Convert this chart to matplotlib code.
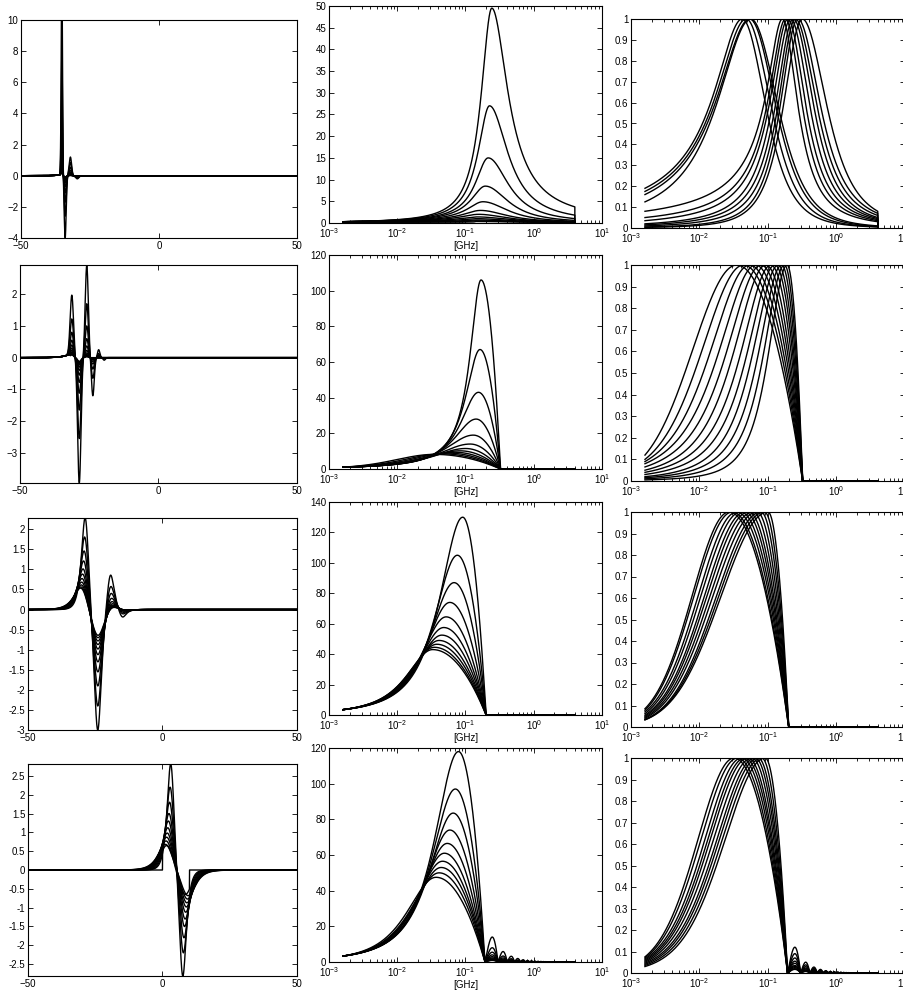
import numpy as np
import matplotlib
matplotlib.use("Agg")
import matplotlib.pyplot as plt
from matplotlib.ticker import FixedLocator, LogLocator, NullFormatter, FuncFormatter

plt.rcParams['font.family'] = ['Liberation Sans', 'DejaVu Sans']
plt.rcParams['mathtext.fontset'] = 'custom'
plt.rcParams['mathtext.rm'] = 'Liberation Sans'

# ================= data =================
# ---- column 1 : time-domain pulses; value of each curve at each lobe centre ----
t_lim = (-50, 50)

r1_centers = [-35.2, -34.0, -32.1, -29.6]
r1_widths = [0.33, 0.5, 0.6, 0.8]
r1_vals = [
    [13.0, 8.0, 5.0, 3.0, 2.0, 1.3, 0.9, 0.6, 0.45, 0.35, 0.3, 0.25],
    [-4.0, -2.6, -1.7, -1.1, -0.7, -0.45, -0.3, -0.2, -0.15, -0.12, -0.1, -0.08],
    [1.2, 0.85, 0.55, 0.35, 0.22, 0.14, 0.09, 0.06, 0.04, 0.03, 0.02, 0.02],
    [-0.2, -0.14, -0.09, -0.06, -0.04, -0.02, -0.01, -0.01, 0.0, 0.0, 0.0, 0.0],
]
r1_pre = 0.08

r2_centers = [-31.3, -28.6, -25.9, -23.7, -21.6, -19.6]
r2_widths = [0.85, 0.85, 0.8, 0.7, 0.6, 0.6]
r2_vals = [
    [1.97, 1.22, 0.8, 0.55, 0.4, 0.3, 0.23, 0.18, 0.15, 0.12, 0.1, 0.09],
    [-3.95, -2.55, -1.65, -1.12, -0.78, -0.55, -0.4, -0.3, -0.23, -0.18, -0.15, -0.12],
    [2.9, 1.7, 1.0, 0.6, 0.37, 0.23, 0.15, 0.1, 0.07, 0.05, 0.04, 0.03],
    [-1.2, -0.65, -0.36, -0.2, -0.12, -0.07, -0.04, -0.03, -0.02, -0.01, -0.01, 0.0],
    [0.25, 0.13, 0.07, 0.04, 0.02, 0.01, 0.0, 0.0, 0.0, 0.0, 0.0, 0.0],
    [-0.08, -0.04, -0.02, -0.01, 0.0, 0.0, 0.0, 0.0, 0.0, 0.0, 0.0, 0.0],
]
r2_pre = 0.15

r3_centers = [-28.7, -24.1, -19.4, -15.0]
r3_vals = [
    [2.28, 1.8, 1.45, 1.2, 1.0, 0.87, 0.76, 0.67, 0.6, 0.55, 0.52],
    [-3.0, -2.4, -1.9, -1.55, -1.3, -1.12, -0.98, -0.87, -0.78, -0.7, -0.64],
    [0.85, 0.56, 0.38, 0.25, 0.16, 0.1, 0.06, 0.04, 0.02, 0.01, 0.0],
    [-0.18, -0.1, -0.06, -0.03, -0.02, -0.01, 0.0, 0.0, 0.0, 0.0, 0.0],
]
r3_widths = [1.25, 1.4, 1.55, 1.7, 1.85, 2.0, 2.1, 2.2, 2.3, 2.4, 2.5]
r3_shift = [0.0, -0.15, -0.3, -0.45, -0.6, -0.75, -0.9, -1.0, -1.1, -1.2, -1.3]

r4_vals = [2.82, 2.2, 1.8, 1.5, 1.3, 1.12, 0.98, 0.87, 0.77, 0.68]
r4_half_sep = [2.2, 2.4, 2.6, 2.8, 3.0, 3.2, 3.4, 3.6, 3.8, 4.0]
r4_widths = [1.2, 1.35, 1.5, 1.65, 1.8, 1.95, 2.1, 2.25, 2.4, 2.55]
r4_mid = 5.3
r4_box = (0.0, 10.0)          # truncated curve: jumps at t = 0 and t = 10
r4_box_amp = 0.65

# ---- columns 2/3 : spectra ----
f_start, f_end = 0.0016, 4.0

# row 1, column 2 (absolute)
A1 = [49.5, 27.0, 15.0, 8.5, 4.9, 2.9, 2.0, 1.4, 1.0, 0.7, 0.5, 0.35]
fp1 = [0.243, 0.225, 0.215, 0.195, 0.18, 0.165, 0.155, 0.15, 0.145, 0.14, 0.14, 0.14]
hl1 = [0.19, 0.21, 0.24, 0.28, 0.33, 0.4, 0.45, 0.5, 0.55, 0.6, 0.65, 0.7]
lo1 = [0.006, 0.011, 0.02, 0.035, 0.06, 0.1, 0.14, 0.2, 0.26, 0.32, 0.38, 0.45]
hr1 = [0.3, 0.33, 0.36, 0.4, 0.44, 0.48, 0.52, 0.56, 0.6, 0.64, 0.68, 0.72]
hi1 = [0.075, 0.067, 0.067, 0.07, 0.08, 0.1, 0.12, 0.14, 0.15, 0.17, 0.2, 0.2]
# row 1, column 3 (normalised)
n1_fp = [0.162, 0.18, 0.195, 0.214, 0.234, 0.251, 0.272, 0.316, 0.056, 0.054, 0.048, 0.042]
n1_hl = [0.34, 0.33, 0.33, 0.32, 0.31, 0.3, 0.3, 0.32, 0.6, 0.62, 0.6, 0.58]
n1_lo = [0.08, 0.05, 0.035, 0.02, 0.015, 0.01, 0.005, 0.003, 0.125, 0.16, 0.175, 0.19]
n1_hr = [0.27, 0.29, 0.31, 0.33, 0.35, 0.37, 0.39, 0.42, 0.46, 0.44, 0.42, 0.4]
n1_hi = [0.03, 0.035, 0.04, 0.045, 0.05, 0.06, 0.07, 0.08, 0.01, 0.008, 0.006, 0.005]

# row 2
A2 = [106, 67, 43, 28, 19, 14, 11.5, 10.2, 9.4, 8.9, 8.5, 8.2]
fp2 = [0.169, 0.163, 0.155, 0.143, 0.130, 0.117, 0.100, 0.083, 0.069, 0.056, 0.045, 0.035]
hl2 = [0.2, 0.26, 0.32, 0.4, 0.5, 0.58, 0.6, 0.62, 0.64, 0.66, 0.68, 0.7]
base2 = 1.0
fc2 = 0.325
n2_fp = [0.19, 0.174, 0.158, 0.141, 0.126, 0.11, 0.093, 0.079, 0.066, 0.054, 0.044, 0.035]
n2_hl = [0.32, 0.36, 0.4, 0.44, 0.48, 0.52, 0.56, 0.6, 0.64, 0.68, 0.72, 0.76]
n2_lo = [0.005, 0.01, 0.015, 0.02, 0.03, 0.04, 0.05, 0.065, 0.08, 0.09, 0.1, 0.12]
n2_fc = 0.32

# row 3
A3 = [130, 105, 87, 74, 64.5, 57.5, 52.5, 49, 46.5, 44.5, 43]
fp3 = [0.091, 0.076, 0.068, 0.059, 0.052, 0.048, 0.045, 0.041, 0.038, 0.035, 0.033]
hl3 = [0.4, 0.41, 0.43, 0.44, 0.45, 0.46, 0.47, 0.47, 0.47, 0.47, 0.46]
base3 = 3.5
fc3 = 0.2
n3_fp = [0.1, 0.089, 0.079, 0.069, 0.06, 0.052, 0.046, 0.04, 0.035, 0.03, 0.027]
n3_hl = [0.81, 0.79, 0.77, 0.76, 0.74, 0.72, 0.7, 0.69, 0.67, 0.66, 0.64]
n3_lo = [0.025, 0.03, 0.035, 0.04, 0.045, 0.05, 0.055, 0.062, 0.07, 0.078, 0.085]
n3_fc = 0.2

# row 4
A4 = [118, 97, 83.5, 74, 66.5, 61, 56.5, 53, 50, 47.5]
fp4 = [0.079, 0.071, 0.066, 0.059, 0.054, 0.049, 0.046, 0.044, 0.041, 0.037]
hl4 = [0.41, 0.42, 0.43, 0.44, 0.45, 0.46, 0.47, 0.48, 0.49, 0.5]
base4 = 3.3
fc4 = 0.193
side4_abs = [14, 8, 5.5, 4, 3, 2.3, 1.8, 1.4, 1.1, 0.9]
n4_fp = [0.091, 0.081, 0.072, 0.065, 0.058, 0.051, 0.046, 0.041, 0.036, 0.032]
n4_hl = [0.71, 0.7, 0.69, 0.68, 0.68, 0.67, 0.66, 0.65, 0.65, 0.64]
n4_lo = [0.03, 0.035, 0.04, 0.045, 0.05, 0.055, 0.06, 0.065, 0.07, 0.075]
n4_side = [0.12, 0.09, 0.07, 0.055, 0.045, 0.035, 0.03, 0.025, 0.02, 0.017]
zeros4 = [0.193, 0.30, 0.41, 0.525, 0.64, 0.755, 0.87, 0.985, 1.10, 1.215, 1.33, 1.445, 1.56]
side_ratio4 = [1.0, 0.42, 0.23, 0.14, 0.09, 0.06, 0.045, 0.035, 0.028, 0.022, 0.018, 0.015]

# ================= helpers =================
W, H = 904, 996
fig = plt.figure(figsize=(W / 100, H / 100), dpi=100)


def ax_px(l, t, r, b):
    return fig.add_axes([l / W, 1 - b / H, (r - l) / W, (b - t) / H])


def style(ax, logx=False):
    ax.tick_params(direction='in', which='both', top=True, right=True,
                   labelsize=7, width=0.6, pad=2)
    ax.tick_params(which='major', length=3.5)
    ax.tick_params(which='minor', length=2)
    for s in ax.spines.values():
        s.set_linewidth(0.8)
    if logx:
        ax.set_xscale('log')
        ax.set_xlim(1e-3, 1e1)
        ax.xaxis.set_major_locator(LogLocator(base=10, numticks=10))
        ax.xaxis.set_minor_locator(LogLocator(base=10, subs=np.arange(2, 10), numticks=50))
        ax.xaxis.set_minor_formatter(NullFormatter())


def gen_lor(delta, h, D, L):
    """peak-normalised flank: 1 at delta=0, 0.5 at delta=h, L at delta=D"""
    t = np.log(2) / np.log(1 / L)
    if t <= h * h / (D * D):
        return np.exp(-np.log(2) * (delta / h) ** 2)
    lo, hi = 1e-8, 1e10
    for _ in range(200):
        mid = np.sqrt(lo * hi)
        r = np.log1p(h * h * mid) / np.log1p(D * D * mid)
        if r < t:
            lo = mid
        else:
            hi = mid
    x = mid
    p = np.log(2) / np.log1p(h * h * x)
    return (1 + x * delta ** 2) ** (-p)


LW = 1.0
t = np.linspace(-50, 50, 5001)
u = np.linspace(np.log10(f_start), np.log10(f_end), 3000)
f = 10 ** u
u0 = u[0]


def gauss(x, c, w):
    return np.exp(-((x - c) / w) ** 2)


def sech(x, c, w):
    return 1 / np.cosh((x - c) / w)


def lobes(shape, centers, widths, targets):
    """amplitudes so that the summed curve takes the target values at the centres"""
    n = len(centers)
    M = np.array([[shape(centers[i], centers[j], widths[j]) for j in range(n)] for i in range(n)])
    amps = np.linalg.solve(M, np.array(targets, float))
    y = np.zeros_like(t)
    for a, c, w in zip(amps, centers, widths):
        y += a * shape(t, c, w)
    return y


def flank_left(fp, hl, lo):
    up = np.log10(fp)
    return up, gen_lor(np.abs(u - up), hl, up - u0, lo)


def cut_spec(fp, hl, lo, fc):
    up, left = flank_left(fp, hl, lo)
    s = np.clip((u - up) / (np.log10(fc) - up), 0, 1)
    return np.where(u < up, left, 1 - s ** 2)


def res_spec(fp, hl, lo, hr, hi):
    up, left = flank_left(fp, hl, lo)
    right = gen_lor(np.abs(u - up), hr, u[-1] - up, hi)
    return np.where(u < up, left, right)


def add_sidelobes(n, amp1):
    n = n.copy()
    for i in range(len(zeros4) - 1):
        za, zb = zeros4[i], zeros4[i + 1]
        m = (f >= za) & (f < zb)
        n[m] = amp1 * side_ratio4[i] * np.sin(np.pi * (f[m] - za) / (zb - za))
    return n


def time_axes(ax, ylim, yticks, fmt=False):
    ax.set_xlim(*t_lim)
    ax.set_ylim(*ylim)
    ax.xaxis.set_major_locator(FixedLocator([-50, 0, 50]))
    ax.yaxis.set_major_locator(FixedLocator(yticks))
    if fmt:
        ax.yaxis.set_major_formatter(FuncFormatter(lambda v, p: '%g' % round(v, 1)))


def spec_axes(ax, ytop, step):
    ax.set_ylim(0, ytop)
    ax.yaxis.set_major_locator(FixedLocator(np.arange(0, ytop + 0.01, step)))
    ax.set_xlabel('[GHz]', fontsize=7, labelpad=1)


def norm_axes(ax):
    ax.set_ylim(0, 1)
    ax.yaxis.set_major_locator(FixedLocator(np.arange(0, 1.01, 0.1)))
    ax.yaxis.set_major_formatter(FuncFormatter(lambda v, p: '%g' % round(v, 1)))


# ================= row 1 =================
ax = ax_px(21, 20, 297, 238)
style(ax)
for k in range(len(r1_vals[0])):
    y = lobes(gauss, r1_centers, r1_widths, [v[k] for v in r1_vals])
    y += np.where(t < r1_centers[0], r1_pre * np.exp((t - r1_centers[0]) / 2.0), 0) * (1 - gauss(t, r1_centers[0], 0.4))
    ax.plot(t, y, 'k', lw=LW)
time_axes(ax, (-4, 10), np.arange(-4, 11, 2))

ax2 = ax_px(329, 6, 602, 223)
style(ax2, True)
ax3 = ax_px(631, 19, 905, 228)
style(ax3, True)
ff = np.append(f, f_end)
for k in range(len(A1)):
    n = res_spec(fp1[k], hl1[k], lo1[k], hr1[k], hi1[k])
    ax2.plot(ff, np.append(A1[k] * n, 0), 'k', lw=LW)
for k in range(len(n1_fp)):
    n = res_spec(n1_fp[k], n1_hl[k], n1_lo[k], n1_hr[k], n1_hi[k])
    ax3.plot(ff, np.append(n, 0), 'k', lw=LW)
spec_axes(ax2, 50, 5)
norm_axes(ax3)

# ================= row 2 =================
ax = ax_px(20, 265, 297, 483)
style(ax)
for k in range(len(r2_vals[0])):
    y = lobes(gauss, r2_centers, r2_widths, [v[k] for v in r2_vals])
    y += r2_pre * np.exp((t - r2_centers[0]) / 2.5) * (t < r2_centers[0] - 0.5) * (1 - gauss(t, r2_centers[0], 1.0))
    ax.plot(t, y, 'k', lw=LW)
time_axes(ax, (-3.95, 2.92), [-3, -2, -1, 0, 1, 2])

ax2 = ax_px(329, 255, 602, 469)
style(ax2, True)
ax3 = ax_px(631, 265, 905, 481)
style(ax3, True)
for k in range(len(A2)):
    ax2.plot(f, A2[k] * cut_spec(fp2[k], hl2[k], base2 / A2[k], fc2), 'k', lw=LW)
for k in range(len(n2_fp)):
    ax3.plot(f, cut_spec(n2_fp[k], n2_hl[k], n2_lo[k], n2_fc), 'k', lw=LW)
spec_axes(ax2, 120, 20)
norm_axes(ax3)

# ================= row 3 =================
ax = ax_px(28, 518, 297, 730)
style(ax)
for k in range(len(r3_widths)):
    cs = [c + (r3_shift[k] if j == 0 else 0.0) for j, c in enumerate(r3_centers)]
    y = lobes(sech, cs, [r3_widths[k]] * len(cs), [v[k] for v in r3_vals])
    ax.plot(t, y, 'k', lw=LW)
time_axes(ax, (-3.0, 2.28), np.arange(-3, 2.01, 0.5), True)

ax2 = ax_px(329, 502, 602, 715)
style(ax2, True)
ax3 = ax_px(631, 512, 905, 727)
style(ax3, True)
for k in range(len(A3)):
    ax2.plot(f, A3[k] * cut_spec(fp3[k], hl3[k], base3 / A3[k], fc3), 'k', lw=LW)
for k in range(len(n3_fp)):
    ax3.plot(f, cut_spec(n3_fp[k], n3_hl[k], n3_lo[k], n3_fc), 'k', lw=LW)
spec_axes(ax2, 140, 20)
norm_axes(ax3)

# ================= row 4 =================
ax = ax_px(28, 764, 297, 976)
style(ax)
for k in range(len(r4_vals)):
    cs = [r4_mid - r4_half_sep[k], r4_mid + r4_half_sep[k]]
    y = lobes(sech, cs, [r4_widths[k]] * 2, [r4_vals[k], -r4_vals[k]])
    ax.plot(t, y, 'k', lw=LW)
inside = (t >= r4_box[0]) & (t <= r4_box[1])
yb = np.where(inside, r4_box_amp * np.sin(np.pi * (r4_mid - 0.3 - t) / 7.0), 0.0)
ax.plot(t, yb, 'k', lw=LW)
time_axes(ax, (-2.82, 2.82), np.arange(-2.5, 2.51, 0.5), True)

ax2 = ax_px(329, 748, 602, 962)
style(ax2, True)
ax3 = ax_px(631, 758, 905, 973)
style(ax3, True)
for k in range(len(A4)):
    n = add_sidelobes(cut_spec(fp4[k], hl4[k], base4 / A4[k], fc4), side4_abs[k] / A4[k])
    ax2.plot(f, A4[k] * n, 'k', lw=LW)
for k in range(len(n4_fp)):
    n = add_sidelobes(cut_spec(n4_fp[k], n4_hl[k], n4_lo[k], fc4), n4_side[k])
    ax3.plot(f, n, 'k', lw=LW)
spec_axes(ax2, 120, 20)
norm_axes(ax3)

fig.savefig('out.png', dpi=100)
